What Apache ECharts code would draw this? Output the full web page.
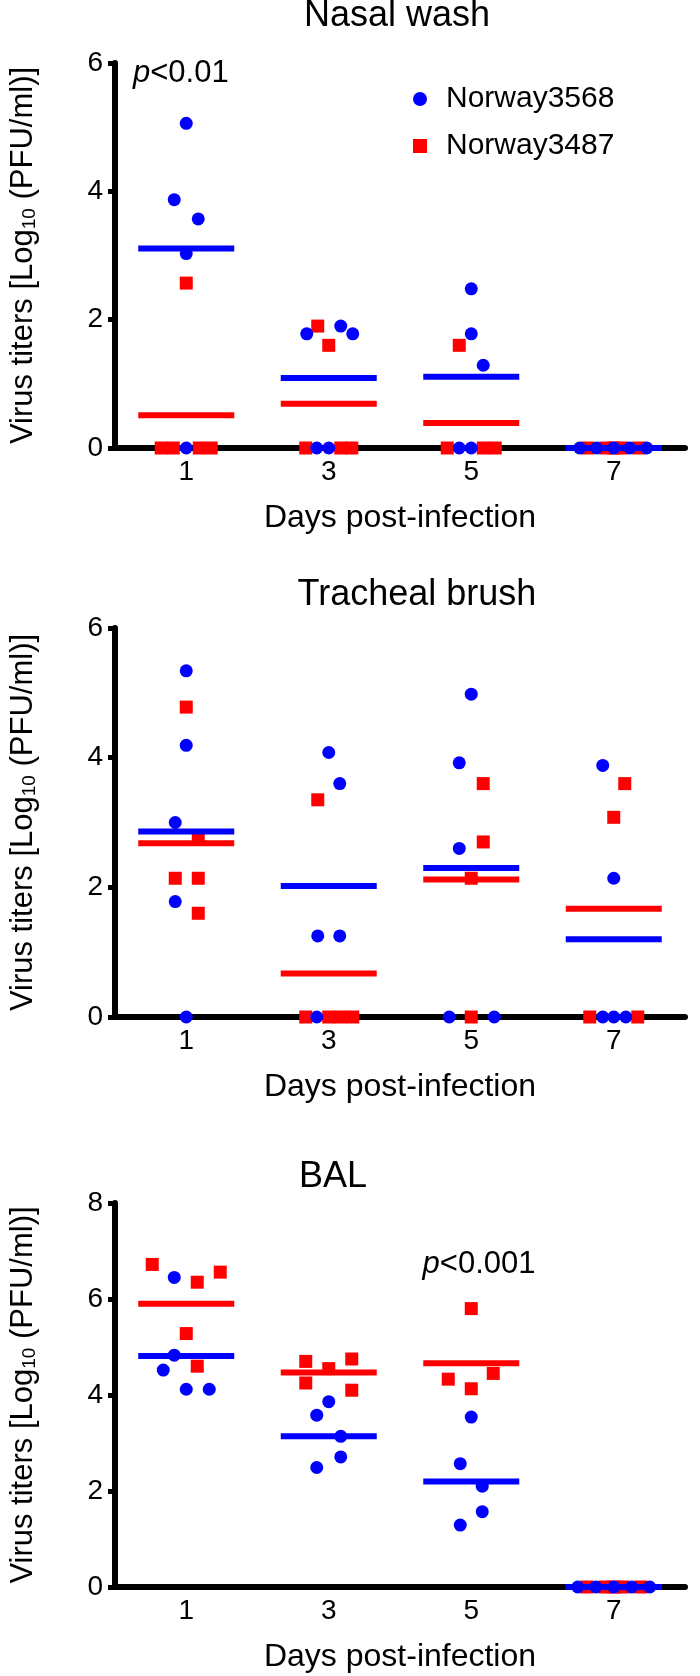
<!DOCTYPE html>
<html>
<head>
<meta charset="utf-8">
<script src="https://cdn.jsdelivr.net/npm/echarts@6/dist/echarts.min.js"></script>
<style>
  html, body { margin: 0; padding: 0; background: #ffffff; }
  #chart { width: 700px; height: 1676px; }
</style>
</head>
<body>
<div id="chart"></div>
<script>
// ---------------- DATA ----------------
const days = ['1', '3', '5', '7'];
const seriesNames = ['Norway3568', 'Norway3487'];

// Nasal wash (Log10 PFU/ml), one array per day
const nasal3568 = [[5.06, 3.87, 3.57, 3.03, 0], [1.78, 1.9, 1.78, 0, 0], [2.48, 1.78, 1.29, 0, 0], [0, 0, 0, 0, 0]];
const nasal3487 = [[2.57, 0, 0, 0, 0], [1.9, 1.6, 0, 0, 0], [1.6, 0, 0, 0], [0, 0, 0, 0, 0]];
const nasalMean3568 = [3.11, 1.09, 1.11, 0];
const nasalMean3487 = [0.51, 0.69, 0.39, 0];

// Tracheal brush
const trach3568 = [[5.34, 4.19, 3.0, 1.78, 0], [4.08, 3.6, 1.25, 1.25, 0], [4.98, 3.92, 2.6, 0, 0], [3.88, 2.14, 0, 0, 0]];
const trach3487 = [[4.78, 2.75, 2.14, 2.14, 1.6], [3.35, 0, 0, 0, 0], [3.6, 2.7, 2.14, 0], [3.6, 3.08, 0, 0]];
const trachMean3568 = [2.86, 2.02, 2.3, 1.2];
const trachMean3487 = [2.68, 0.67, 2.12, 1.67];

// BAL
const bal3568 = [[6.45, 4.83, 4.52, 4.12, 4.12], [3.86, 3.58, 3.14, 2.71, 2.49], [3.54, 2.57, 2.1, 1.57, 1.29], [0, 0, 0, 0, 0]];
const bal3487 = [[6.72, 6.35, 6.56, 5.28, 4.6], [4.7, 4.25, 4.55, 4.75, 4.1], [5.8, 4.33, 4.45, 4.13], [0, 0, 0, 0, 0]];
const balMean3568 = [4.81, 3.14, 2.2, 0];
const balMean3487 = [5.9, 4.47, 4.66, 0];

const panelTitles = ['Nasal wash', 'Tracheal brush', 'BAL'];
const yTicksMax = [6, 6, 8];
const pLabels = ['<0.01', '<0.001'];

// ---------------- STYLE / LAYOUT (horizontal scatter offsets in px) ----------------
const nasalJit3568 = [[0, -12, 12, 0, 0], [-22, 12, 24, -12, 0], [0, 0, 12, -12, 0], [-34, -17, 0, 16, 33]];
const nasalJit3487 = [[0, -25, -13, 13, 25], [-11, 0, -23, 12, 23], [-12, -24, 12, 24], [-26, -8, 8, 25, 0]];
const trachJit3568 = [[0, 0, -11, -11, 0], [0, 11, -11, 11, -12], [0, -12, -12, -22, 23], [-11, 0, -11, 0, 12]];
const trachJit3487 = [[0, 12, -11, 12, 12], [-11, -23, 0, 12, 24], [12, 12, 0, 0], [11, 0, -24, 24]];
const balJit3568 = [[-12, -12, -23, 0, 23], [0, -12, 12, 12, -12], [0, -11, 11, 11, -11], [-36, -18, 0, 18, 36]];
const balJit3487 = [[-34, 11, 34, 0, 11], [-23, -23, 0, 23, 23], [0, -23, 22, 0], [-27, -9, 9, 27, 0]];

const FONT = '"Liberation Sans", Arial, Helvetica, sans-serif';
const BLUE = '#0000fe';
const RED = '#fe0000';
const grids = [
  { left: 110, width: 575, top: 63, height: 385 },
  { left: 110, width: 575, top: 628, height: 389 },
  { left: 110, width: 575, top: 1203, height: 384 }
];

function pointSeries(name, vals, jit, g, symbol, color, z) {
  const data = [];
  vals.forEach((arr, i) => arr.forEach((v, j) => {
    data.push({ value: [i, v], symbolOffset: [jit[i][j], 0] });
  }));
  return {
    type: 'scatter', name: name, xAxisIndex: g, yAxisIndex: g,
    symbol: symbol, symbolSize: 13, itemStyle: { color: color, opacity: 1 },
    data: data, z: z, clip: false, silent: true, animation: false
  };
}
function meanSeries(name, means, g, color, z) {
  return {
    type: 'scatter', name: name, xAxisIndex: g, yAxisIndex: g,
    symbol: 'rect', symbolSize: [96, 6], itemStyle: { color: color, opacity: 1 },
    data: means.map((v, i) => [i, v]), z: z, clip: false, silent: true, animation: false
  };
}

const xAxes = grids.map((g, i) => ({
  gridIndex: i, type: 'category', data: days, boundaryGap: true,
  axisLine: { lineStyle: { color: '#000', width: 6 } },
  axisTick: { alignWithLabel: true, length: 6, lineStyle: { color: '#000', width: 5 } },
  axisLabel: { fontSize: 28, color: '#000', fontFamily: FONT, margin: 10 },
  splitLine: { show: false },
  name: 'Days post-infection', nameLocation: 'middle', nameGap: 54,
  nameTextStyle: { fontSize: 32, color: '#000', fontFamily: FONT }
}));
const yAxes = grids.map((g, i) => ({
  gridIndex: i, type: 'value', min: 0, max: yTicksMax[i], interval: 2,
  axisLine: { show: true, lineStyle: { color: '#000', width: 6 } },
  axisTick: { show: true, length: 7, lineStyle: { color: '#000', width: 5 } },
  axisLabel: { fontSize: 28, color: '#000', fontFamily: FONT, margin: 12 },
  splitLine: { show: false },
  name: 'Virus titers [Log{s|10} (PFU/ml)]', nameLocation: 'middle', nameRotate: 90, nameGap: 76,
  nameTextStyle: {
    fontSize: 31, color: '#000', fontFamily: FONT,
    rich: { s: { fontSize: 19, color: '#000', fontFamily: FONT, verticalAlign: 'bottom', padding: [10, 0, 0, 0] } }
  }
}));

const series = [
  pointSeries(seriesNames[1], nasal3487, nasalJit3487, 0, 'rect', RED, 2),
  pointSeries(seriesNames[0], nasal3568, nasalJit3568, 0, 'circle', BLUE, 3),
  meanSeries(seriesNames[1], nasalMean3487, 0, RED, 4),
  meanSeries(seriesNames[0], nasalMean3568, 0, BLUE, 5),
  pointSeries(seriesNames[1], trach3487, trachJit3487, 1, 'rect', RED, 2),
  pointSeries(seriesNames[0], trach3568, trachJit3568, 1, 'circle', BLUE, 3),
  meanSeries(seriesNames[1], trachMean3487, 1, RED, 4),
  meanSeries(seriesNames[0], trachMean3568, 1, BLUE, 5),
  pointSeries(seriesNames[1], bal3487, balJit3487, 2, 'rect', RED, 2),
  pointSeries(seriesNames[0], bal3568, balJit3568, 2, 'circle', BLUE, 3),
  meanSeries(seriesNames[1], balMean3487, 2, RED, 4),
  meanSeries(seriesNames[0], balMean3568, 2, BLUE, 5)
];

const titleStyle = { fontSize: 36, fontFamily: FONT, fill: '#000', align: 'center', verticalAlign: 'middle' };
const pStyle = (txt) => ({
  text: '{i|p}' + txt, fontSize: 31, fontFamily: FONT, fill: '#000', verticalAlign: 'middle',
  rich: { i: { fontStyle: 'italic', fontSize: 31, fontFamily: FONT, fill: '#000' } }
});

const option = {
  backgroundColor: '#ffffff',
  animation: false,
  grid: grids,
  xAxis: xAxes,
  yAxis: yAxes,
  legend: {
    data: [{ name: seriesNames[0], icon: 'circle' }, { name: seriesNames[1], icon: 'rect' }],
    orient: 'vertical', left: 408, top: 79, itemWidth: 14, itemHeight: 14, itemGap: 17,
    selectedMode: false,
    textStyle: { fontSize: 30, color: '#000', fontFamily: FONT, lineHeight: 30, padding: [0, 0, 0, 14] }
  },
  graphic: [
    { type: 'text', x: 397, y: 16, style: Object.assign({ text: panelTitles[0] }, titleStyle) },
    { type: 'text', x: 417, y: 595, style: Object.assign({ text: panelTitles[1] }, titleStyle) },
    { type: 'text', x: 333, y: 1177, style: Object.assign({ text: panelTitles[2] }, titleStyle) },
    { type: 'text', x: 133, y: 73, style: Object.assign({ align: 'left' }, pStyle(pLabels[0])) },
    { type: 'text', x: 479, y: 1264, style: Object.assign({ align: 'center' }, pStyle(pLabels[1])) }
  ],
  series: series
};

const chart = echarts.init(document.getElementById('chart'), null, { renderer: 'canvas' });
chart.setOption(option);
</script>
</body>
</html>
